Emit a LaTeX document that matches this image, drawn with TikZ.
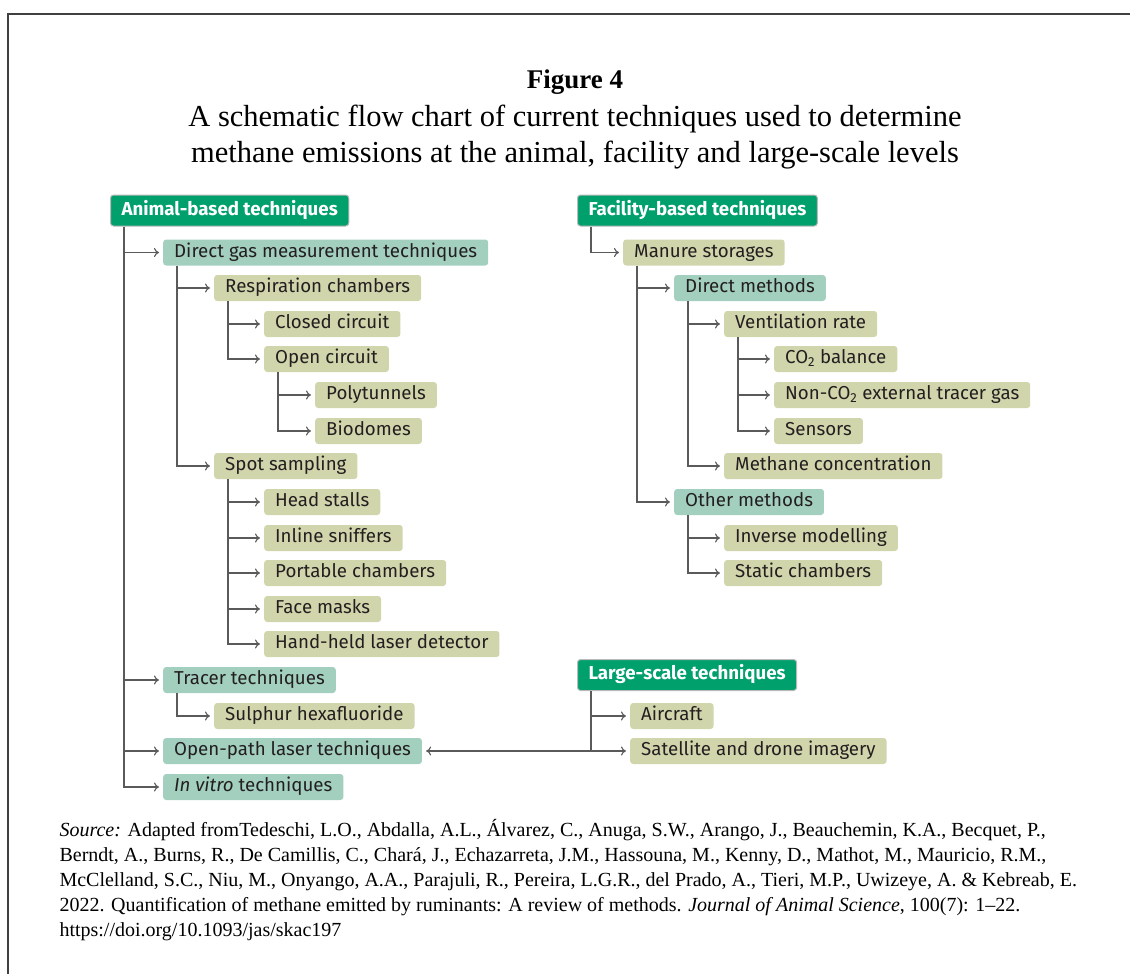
\documentclass[tikz,border=0pt]{standalone}
\usepackage{fontspec}
\setmainfont{Liberation Serif}
\newfontfamily\boxfont{Fira Sans}
\usetikzlibrary{arrows.meta,positioning}

\definecolor{catgreen}{HTML}{00A06C}
\definecolor{subteal}{HTML}{A2CFBE}
\definecolor{leafolive}{HTML}{D1D5AB}
\definecolor{linegray}{HTML}{5A5A5A}
\definecolor{inkdark}{HTML}{231F20}

\tikzset{
  box/.style={anchor=west, rounded corners=3pt, inner xsep=11pt, inner ysep=0pt,
    minimum height=26pt, text height=13pt, text depth=4pt, text=inkdark,
    font=\boxfont\fontsize{18.7}{20}\selectfont},
  cat/.style={box, fill=catgreen, draw=gray!55, line width=1pt, text=white,
    minimum height=31pt, font=\boxfont\bfseries\fontsize{18.7}{20}\selectfont},
  sub/.style={box, fill=subteal},
  leaf/.style={box, fill=leafolive},
  conn/.style={draw=linegray, line width=1.1pt, -{To[length=5pt,width=9pt]}},
}

\begin{document}
\begin{tikzpicture}[x=1pt,y=-1pt]
\useasboundingbox (0,0) rectangle (1130,974);
\draw[line width=1.2pt, black!75] (8,975) -- (8,14) -- (1131,14);

\node[font=\bfseries\fontsize{27}{32}\selectfont] (fig) at (575,82) {Figure 4};
\node[align=center, font=\fontsize{30.5}{36}\selectfont] (ttl) at (575,137)
  {A schematic flow chart of current techniques used to determine\\
   methane emissions at the animal, facility and large-scale levels};

% animal-based
\node[cat]  (anim)   at (110,210.5) {Animal-based techniques};
\node[sub]  (direct) at (163,252.5) {Direct gas measurement techniques};
\node[leaf] (resp)   at (214,288) {Respiration chambers};
\node[leaf] (closed) at (264,324) {Closed circuit};
\node[leaf] (open)   at (264,359) {Open circuit};
\node[leaf] (poly)   at (315,395) {Polytunnels};
\node[leaf] (bio)    at (315,431) {Biodomes};
\node[leaf] (spot)   at (214,466) {Spot sampling};
\node[leaf] (head)   at (264,502) {Head stalls};
\node[leaf] (inline) at (264,538) {Inline sniffers};
\node[leaf] (port)   at (264,573) {Portable chambers};
\node[leaf] (face)   at (264,609) {Face masks};
\node[leaf] (hand)   at (264,644) {Hand-held laser detector};
\node[sub]  (tracer) at (163,680) {Tracer techniques};
\node[leaf] (sulph)  at (214,716) {Sulphur hexafluoride};
\node[sub]  (opath)  at (163,751) {Open-path laser techniques};
\node[sub]  (vitro)  at (163,787) {\textit{In vitro} techniques};

% facility-based
\node[cat]  (fac)    at (577,210.5) {Facility-based techniques};
\node[leaf] (manure) at (623,252.5) {Manure storages};
\node[sub]  (dmeth)  at (674,288) {Direct methods};
\node[leaf] (vent)   at (724,324) {Ventilation rate};
\node[leaf] (co2)    at (774,359) {CO\textsubscript{2} balance};
\node[leaf] (nonco2) at (774,395) {Non-CO\textsubscript{2} external tracer gas};
\node[leaf] (sens)   at (774,431) {Sensors};
\node[leaf] (mconc)  at (724,466) {Methane concentration};
\node[sub]  (other)  at (674,502) {Other methods};
\node[leaf] (inv)    at (724,538) {Inverse modelling};
\node[leaf] (stat)   at (724,573) {Static chambers};

% large-scale
\node[cat]  (large)  at (577,675) {Large-scale techniques};
\node[leaf] (air)    at (630,716) {Aircraft};
\node[leaf] (sat)    at (630,751) {Satellite and drone imagery};

\foreach \p/\c in {anim/direct, anim/tracer, anim/opath, anim/vitro,
    direct/resp, direct/spot, resp/closed, resp/open, open/poly, open/bio,
    spot/head, spot/inline, spot/port, spot/face, spot/hand, tracer/sulph,
    fac/manure, manure/dmeth, manure/other, dmeth/vent, dmeth/mconc,
    vent/co2, vent/nonco2, vent/sens, other/inv, other/stat,
    large/air, large/sat}
  \draw[conn] ([xshift=14pt]\p.south west) |- ([xshift=-4pt]\c.west);

\coordinate (lsjoin) at ([xshift=14pt]large.south west |- sat.west);
\draw[conn] (lsjoin) -- ([xshift=4pt]opath.east);

\node[anchor=north west, align=left, font=\fontsize{20}{25}\selectfont] (src) at (56,816)
  {\textit{Source:} Adapted fromTedeschi, L.O., Abdalla, A.L., Álvarez, C., Anuga, S.W., Arango, J., Beauchemin, K.A., Becquet, P.,\\
   Berndt, A., Burns, R., De Camillis, C., Chará, J., Echazarreta, J.M., Hassouna, M., Kenny, D., Mathot, M., Mauricio, R.M.,\\
   McClelland, S.C., Niu, M., Onyango, A.A., Parajuli, R., Pereira, L.G.R., del Prado, A., Tieri, M.P., Uwizeye, A. \& Kebreab, E.\\
   2022. Quantification of methane emitted by ruminants: A review of methods. \textit{Journal of Animal Science}, 100(7): 1--22.\\
   https://doi.org/10.1093/jas/skac197};
\end{tikzpicture}
\end{document}
